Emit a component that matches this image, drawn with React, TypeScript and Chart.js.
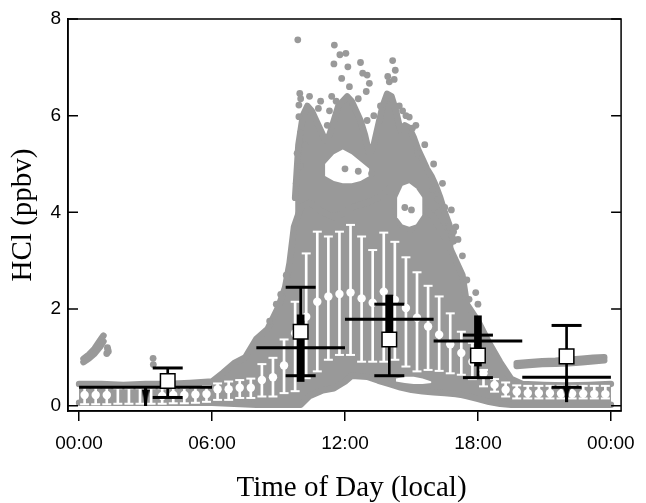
import React, { useEffect, useRef } from "react";
import { Chart, registerables } from "chart.js";

Chart.register(...registerables);

// ---------- axes ----------
const xTickValues = [0, 6, 12, 18, 24];
const xTickLabels = ["00:00", "06:00", "12:00", "18:00", "00:00"];
const yTickValues = [0, 2, 4, 6, 8];
const xTitle = "Time of Day (local)";
const yTitle = "HCl (ppbv)";

// ---------- gray cloud of individual measurements (outline of the dense part) ----------
const coreHours = [0, 1, 2, 3, 4, 5, 6, 6.5, 7, 7.5, 8, 8.5, 9, 9.3, 9.5, 9.7, 10, 10.4, 11, 11.5, 12, 12.3, 13, 13.5, 14, 14.5, 15, 15.5, 16, 16.5, 17, 17.3, 17.5, 18, 18.5, 19, 19.5, 20, 21, 22, 23, 24];
const coreLow = [0.06, 0.06, 0.06, 0.06, 0.06, 0.06, 0.06, 0.05, 0.04, 0.03, 0.02, 0.02, 0.02, 0.02, 0.02, 0.02, 0.02, 0.2, 0.32, 0.36, 0.5, 0.62, 0.6, 0.52, 0.45, 0.38, 0.33, 0.3, 0.28, 0.26, 0.24, 0.22, 0.2, 0.14, 0.08, 0.04, 0.02, 0.02, 0.02, 0.02, 0.02, 0.02];
const coreHigh = [0.45, 0.45, 0.43, 0.45, 0.45, 0.47, 0.5, 0.68, 0.88, 1.0, 1.38, 1.58, 2.05, 2.45, 2.95, 3.7, 4.1, 4.2, 4.0, 3.9, 4.0, 4.1, 4.2, 4.3, 4.5, 3.75, 3.65, 4.1, 3.9, 3.5, 3.0, 2.7, 2.1, 1.75, 1.3, 0.9, 0.55, 0.45, 0.43, 0.42, 0.43, 0.45];
// night/evening stretches where the cloud reaches down to ~0
const baseFloor = 0.04;

// upper (midday) part of the cloud
const upperHours = [9.75, 9.9, 10.1, 10.3, 10.5, 10.7, 10.9, 11.1, 11.3, 11.5, 11.7, 11.9, 12.1, 12.3, 12.5, 12.7, 12.9, 13.1, 13.3, 13.5, 13.7, 13.9, 14.1, 14.3, 14.5, 14.7, 14.9, 15.1, 15.3, 15.5, 15.7, 15.9, 16.1, 16.3, 16.5, 16.7, 16.9];
const upperLow = [3.6, 3.6, 3.6, 3.6, 3.6, 3.6, 3.6, 3.6, 3.6, 3.6, 3.6, 3.6, 3.6, 3.6, 3.6, 3.6, 3.6, 3.6, 3.6, 3.6, 3.6, 3.6, 3.6, 3.6, 3.6, 3.6, 3.6, 3.6, 3.6, 3.6, 3.6, 3.6, 3.6, 3.5, 3.3, 3.1, 3.0];
const upperHigh = [4.3, 5.4, 6.0, 6.2, 6.1, 5.9, 5.7, 5.5, 5.6, 5.9, 6.2, 6.3, 6.4, 6.3, 6.1, 5.9, 5.6, 5.2, 5.4, 5.8, 6.2, 6.45, 6.4, 6.1, 5.7, 5.8, 5.75, 5.55, 5.3, 5.1, 4.9, 4.75, 4.55, 4.3, 4.0, 3.75, 3.4];

// white gaps inside the cloud
const hole1Hours = [11.1, 11.5, 11.9, 12.3, 12.7, 13.1];
const hole1Low = [4.75, 4.65, 4.6, 4.6, 4.65, 4.75];
const hole1High = [5.0, 5.2, 5.3, 5.2, 5.05, 4.9];
const hole2Hours = [14.35, 14.6, 14.9, 15.2, 15.5];
const hole2Low = [3.9, 3.75, 3.7, 3.75, 3.95];
const hole2High = [4.3, 4.55, 4.6, 4.5, 4.3];
const gapHours = [14.3, 14.7, 15.1, 15.5, 15.9];
const gapLow = [0.5, 0.47, 0.45, 0.45, 0.47];
const gapHigh = [0.56, 0.6, 0.6, 0.56, 0.5];

// early-morning bump and evening upper band
const bumpHours = [0.2, 0.45, 0.7, 0.95, 1.1];
const bumpLow = [0.9, 0.98, 1.08, 1.22, 1.33];
const bumpHigh = [0.97, 1.06, 1.18, 1.35, 1.45];
const eveningHours = [19.75, 20.3, 20.9, 21.5, 22.1, 22.7, 23.2, 23.7];
const eveningLow = [0.82, 0.84, 0.86, 0.87, 0.88, 0.9, 0.92, 0.94];
const eveningHigh = [0.88, 0.9, 0.92, 0.93, 0.95, 0.97, 0.99, 1.0];

// sparse individual gray points
const dotHours = [1.28, 1.32, 1.25, 1.3, 3.34, 3.35, 9.87, 11.52, 11.77, 12.04, 11.5, 12.13, 12.7, 14.15, 14.27, 12.8, 13.0, 13.1, 11.85, 13.93, 14.22, 9.96, 12.96, 9.92, 9.92, 9.99, 10.2, 9.84, 9.99, 14.9, 15.04, 15.27, 16.08, 16.2, 15.95, 16.7, 17.1, 17.9, 16.2, 11.3, 11.4, 13.3, 14.6, 10.9, 9.8, 16.5, 16.9, 17.3, 17.5, 17.6, 18.0, 8.6, 8.9, 9.1, 9.35, 14.7, 15.0, 12.0, 12.6, 13.2, 10.0, 10.4, 10.8, 11.2, 11.6, 12.2, 12.6, 13.0, 13.6, 14.0, 14.45, 14.75, 15.2, 15.6, 16.0, 16.4, 16.8, 17.0];
const dotValues = [1.2, 1.12, 1.08, 1.16, 0.98, 0.85, 7.57, 7.46, 7.26, 7.29, 7.07, 7.01, 7.1, 7.14, 6.94, 6.88, 6.84, 6.67, 6.77, 6.81, 6.75, 6.46, 6.5, 6.22, 5.98, 5.64, 5.39, 5.22, 4.95, 5.97, 5.74, 5.22, 4.46, 4.26, 4.47, 3.7, 3.44, 2.34, 4.0, 6.1, 6.4, 6.0, 6.1, 6.3, 4.6, 4.1, 3.6, 3.1, 2.6, 2.2, 2.1, 1.75, 2.1, 2.3, 2.7, 4.1, 4.05, 4.9, 4.85, 4.8, 6.35, 6.4, 6.15, 5.8, 6.3, 6.6, 6.35, 5.9, 6.2, 6.7, 6.2, 6.0, 5.8, 5.4, 5.0, 4.6, 4.05, 3.7];

// ---------- half-hourly medians (white circles) with percentile bars ----------
const whiteHours = [0.25, 0.75, 1.25, 1.75, 2.25, 2.75, 3.25, 3.75, 4.25, 4.75, 5.25, 5.75, 6.25, 6.75, 7.25, 7.75, 8.25, 8.75, 9.25, 9.75, 10.25, 10.75, 11.25, 11.75, 12.25, 12.75, 13.25, 13.75, 14.25, 14.75, 15.25, 15.75, 16.25, 16.75, 17.25, 17.75, 18.25, 18.75, 19.25, 19.75, 20.25, 20.75, 21.25, 21.75, 22.25, 22.75, 23.25, 23.75];
const whiteMedian = [0.22, 0.22, 0.22, null, null, null, null, 0.2, 0.22, 0.22, 0.23, 0.24, 0.34, 0.34, 0.37, 0.37, 0.53, 0.59, 0.83, 1.5, 1.84, 2.15, 2.26, 2.31, 2.34, 2.22, 2.13, 2.36, 2.19, 2.02, 1.82, 1.64, 1.47, 1.27, 1.09, 0.91, 0.67, 0.43, 0.33, 0.29, 0.26, 0.26, 0.26, 0.25, 0.25, 0.25, 0.24, 0.24];
const whiteLow = [0.03, 0.03, 0.03, 0.04, 0.04, 0.04, 0.04, 0.04, 0.05, 0.05, 0.06, 0.08, 0.12, 0.12, 0.16, 0.16, 0.19, 0.19, 0.26, 0.3, 0.57, 0.71, 0.95, 1.05, 1.05, 0.91, 0.91, 0.91, 0.95, 0.81, 0.71, 0.74, 0.72, 0.67, 0.64, 0.55, 0.4, 0.29, 0.19, 0.15, 0.15, 0.15, 0.15, 0.15, 0.15, 0.15, 0.15, 0.15];
const whiteHigh = [0.38, 0.38, 0.38, 0.36, 0.36, 0.36, 0.36, 0.36, 0.37, 0.37, 0.38, 0.4, 0.46, 0.5, 0.53, 0.56, 0.86, 0.99, 1.37, 2.15, 3.15, 3.6, 3.5, 3.6, 3.74, 3.5, 3.22, 3.58, 3.39, 3.07, 2.76, 2.48, 2.26, 1.91, 1.53, 1.3, 0.74, 0.55, 0.48, 0.42, 0.41, 0.41, 0.41, 0.41, 0.41, 0.41, 0.41, 0.41];

// ---------- open squares with thin error bars ----------
const squareHours = [4, 10, 14, 18, 22];
const squareValue = [0.51, 1.53, 1.37, 1.04, 1.02];
const squareLow = [0.17, 0.62, 0.62, 0.58, 0.38];
const squareHigh = [0.78, 2.45, 2.1, 1.46, 1.66];

// ---------- bin means (horizontal black bars) ----------
const binStart = [0, 8, 12, 16, 20];
const binEnd = [6, 12, 16, 20, 24];
const binMid = [3, 10, 14, 18, 22];
const binValue = [0.38, 1.2, 1.79, 1.34, 0.59];
const binBarLow = [null, 0.5, 1.29, 0.82, null];
const binBarHigh = [null, 1.88, 2.29, 1.86, null];
const binLimitTip = [0.0, null, null, null, 0.08];

const GRAY = "#999999";

function makeArrowHead(): HTMLCanvasElement {
  const c = document.createElement("canvas");
  c.width = 8;
  c.height = 34;
  const g = c.getContext("2d")!;
  g.fillStyle = "#000";
  g.beginPath();
  g.moveTo(0, 1);
  g.lineTo(8, 1);
  g.lineTo(4, 17);
  g.closePath();
  g.fill();
  return c;
}

function band(hours: number[], low: number[], high: number[], order: number, color = GRAY, width = 6.5): any[] {
  const common = {
    type: "line",
    borderColor: width > 0 ? color : "rgba(0,0,0,0)",
    backgroundColor: color,
    borderWidth: width,
    pointRadius: 0,
    pointHoverRadius: 0,
    tension: 0,
    borderJoinStyle: "round",
    borderCapStyle: "round",
    order,
  };
  return [
    { ...common, data: hours.map((h, i) => ({ x: h, y: low[i] })), fill: false },
    { ...common, data: hours.map((h, i) => ({ x: h, y: high[i] })), fill: "-1" },
  ];
}

// gray area from the cloud top down to a constant floor, over the hours where the cloud reaches ~0
function floorFill(from: number, to: number): any {
  const idx = coreHours.map((h, i) => i).filter((i) => coreHours[i] >= from && coreHours[i] <= to);
  return {
    type: "line",
    data: idx.map((i) => ({ x: coreHours[i], y: coreHigh[i] })),
    borderWidth: 0,
    borderColor: "rgba(0,0,0,0)",
    backgroundColor: GRAY,
    pointRadius: 0,
    pointHoverRadius: 0,
    tension: 0,
    fill: { value: baseFloor },
    order: 101,
  };
}

const framePlugin = {
  id: "frameTicks",
  afterDraw(chart: any) {
    const { ctx, chartArea: a, scales } = chart;
    const y = scales.y;
    ctx.save();
    ctx.strokeStyle = "#000";
    ctx.lineWidth = 1.5;
    ctx.strokeRect(a.left, a.top, a.right - a.left, a.bottom - a.top);
    ctx.beginPath();
    yTickValues.forEach((v) => {
      const py = y.getPixelForValue(v);
      ctx.moveTo(a.left, py);
      ctx.lineTo(a.left + 10, py);
      ctx.moveTo(a.right, py);
      ctx.lineTo(a.right - 10, py);
    });
    ctx.stroke();
    // x-axis title
    ctx.fillStyle = "#000";
    ctx.font = "29px 'Liberation Serif', 'Times New Roman', serif";
    ctx.textAlign = "center";
    ctx.textBaseline = "middle";
    ctx.fillText(xTitle, (a.left + a.right) / 2 + 7, 488);
    ctx.restore();
  },
};

export default function App() {
  const ref = useRef<HTMLCanvasElement>(null);

  useEffect(() => {
    document.body.style.margin = "0";
    const arrowHead = makeArrowHead();

    const limitIdx = binLimitTip.map((t, i) => (t === null ? -1 : i)).filter((i) => i >= 0);
    const barIdx = binBarLow.map((t, i) => (t === null ? -1 : i)).filter((i) => i >= 0);

    const datasets: any[] = [
      floorFill(0, 10),
      floorFill(19.5, 24),
      ...band(coreHours, coreLow, coreHigh, 100),
      ...band(upperHours, upperLow, upperHigh, 100),
      ...band(bumpHours, bumpLow, bumpHigh, 100),
      ...band(eveningHours, eveningLow, eveningHigh, 100),
      ...band(hole1Hours, hole1Low, hole1High, 95, "#ffffff", 0),
      ...band(hole2Hours, hole2Low, hole2High, 95, "#ffffff", 0),
      ...band(gapHours, gapLow, gapHigh, 95, "#ffffff", 0),
      {
        type: "scatter",
        data: dotHours.map((h, i) => ({ x: h, y: dotValues[i] })),
        pointRadius: 3.4,
        pointHoverRadius: 3.4,
        backgroundColor: GRAY,
        borderWidth: 0,
        order: 90,
      },
      {
        type: "bar",
        data: whiteHours.map((h, i) => ({ x: h, y: [whiteLow[i], whiteHigh[i]] })),
        backgroundColor: "#ffffff",
        barThickness: 2,
        grouped: false,
        borderWidth: 0,
        order: 80,
      },
      {
        type: "scatter",
        data: whiteHours.flatMap((h, i) => [
          { x: h, y: whiteLow[i] },
          { x: h, y: whiteHigh[i] },
        ]),
        pointStyle: "line",
        pointRadius: 4.5,
        pointHoverRadius: 4.5,
        borderColor: "#ffffff",
        borderWidth: 2,
        order: 79,
      },
      {
        type: "scatter",
        data: whiteHours.map((h, i) => ({ x: h, y: whiteMedian[i] })),
        pointStyle: "circle",
        pointRadius: 4.2,
        pointHoverRadius: 4.2,
        backgroundColor: "#ffffff",
        borderWidth: 0,
        order: 78,
      },
      ...binStart.map((s, i) => ({
        type: "line",
        data: [
          { x: s, y: binValue[i] },
          { x: binEnd[i], y: binValue[i] },
        ],
        borderColor: "#000",
        borderWidth: 3,
        pointRadius: 0,
        pointHoverRadius: 0,
        fill: false,
        order: 60,
      })),
      {
        type: "bar",
        data: barIdx.map((i) => ({ x: binMid[i], y: [binBarLow[i], binBarHigh[i]] })),
        backgroundColor: "#000",
        barThickness: 7,
        grouped: false,
        borderWidth: 0,
        order: 50,
      },
      {
        type: "bar",
        data: squareHours.map((h, i) => ({ x: h, y: [squareLow[i], squareHigh[i]] })),
        backgroundColor: "#000",
        barThickness: 2,
        grouped: false,
        borderWidth: 0,
        order: 40,
      },
      {
        type: "scatter",
        data: squareHours.flatMap((h, i) => [
          { x: h, y: squareLow[i] },
          { x: h, y: squareHigh[i] },
        ]),
        pointStyle: "line",
        pointRadius: 15,
        pointHoverRadius: 15,
        borderColor: "#000",
        borderWidth: 3,
        order: 39,
      },
      {
        type: "bar",
        data: limitIdx.map((i) => ({ x: binMid[i], y: [binLimitTip[i], binValue[i]] })),
        backgroundColor: "#000",
        barThickness: 2.5,
        grouped: false,
        borderWidth: 0,
        order: 38,
      },
      {
        type: "scatter",
        data: limitIdx.map((i) => ({ x: binMid[i], y: binLimitTip[i] })),
        pointStyle: arrowHead,
        pointRadius: 5,
        pointHoverRadius: 5,
        order: 37,
      },
      {
        type: "scatter",
        data: squareHours.map((h, i) => ({ x: h, y: squareValue[i] })),
        pointStyle: "rect",
        pointRadius: 10.3,
        pointHoverRadius: 10.3,
        backgroundColor: "#ffffff",
        borderColor: "#000",
        borderWidth: 1.5,
        order: 30,
      },
    ];

    const tickFont = { family: "'Liberation Sans', Arial, sans-serif", size: 19 };
    const titleFont = { family: "'Liberation Serif', 'Times New Roman', serif", size: 29, lineHeight: 1 };

    const chart = new Chart(ref.current!, {
      type: "scatter",
      data: { datasets },
      plugins: [framePlugin],
      options: {
        animation: false,
        responsive: false,
        devicePixelRatio: 1,
        events: [],
        layout: { padding: { top: 19, right: 18, bottom: 0, left: 0 } },
        plugins: {
          legend: { display: false },
          tooltip: { enabled: false },
        },
        scales: {
          x: {
            type: "linear",
            min: -0.5,
            max: 24.46,
            offset: false,
            afterBuildTicks: (s: any) => {
              s.ticks = xTickValues.map((v) => ({ value: v }));
            },
            afterFit: (s: any) => {
              s.height = 92;
            },
            grid: {
              display: true,
              drawOnChartArea: false,
              drawTicks: true,
              tickLength: 10,
              color: "#000",
              lineWidth: 1.5,
              offset: false,
            },
            border: { display: true, color: "#000", width: 1.5 },
            ticks: {
              color: "#000",
              font: tickFont,
              padding: 11,
              maxRotation: 0,
              autoSkip: false,
              callback: (_v: any, i: number) => xTickLabels[i],
            },
            title: { display: false },
          },
          y: {
            type: "linear",
            min: -0.11,
            max: 8,
            afterBuildTicks: (s: any) => {
              s.ticks = yTickValues.map((v) => ({ value: v }));
            },
            afterFit: (s: any) => {
              s.width = 68;
            },
            grid: { display: false, drawTicks: false },
            border: { display: true, color: "#000", width: 1.5 },
            ticks: {
              color: "#000",
              font: tickFont,
              padding: 7,
            },
            title: {
              display: true,
              text: yTitle,
              color: "#000",
              font: titleFont,
              padding: { top: 9, bottom: 0 },
            },
          },
        },
      } as any,
    } as any);

    return () => chart.destroy();
  }, []);

  return (
    <div style={{ width: 646, height: 503 }}>
      <canvas ref={ref} width={646} height={503} style={{ display: "block" }} />
    </div>
  );
}
